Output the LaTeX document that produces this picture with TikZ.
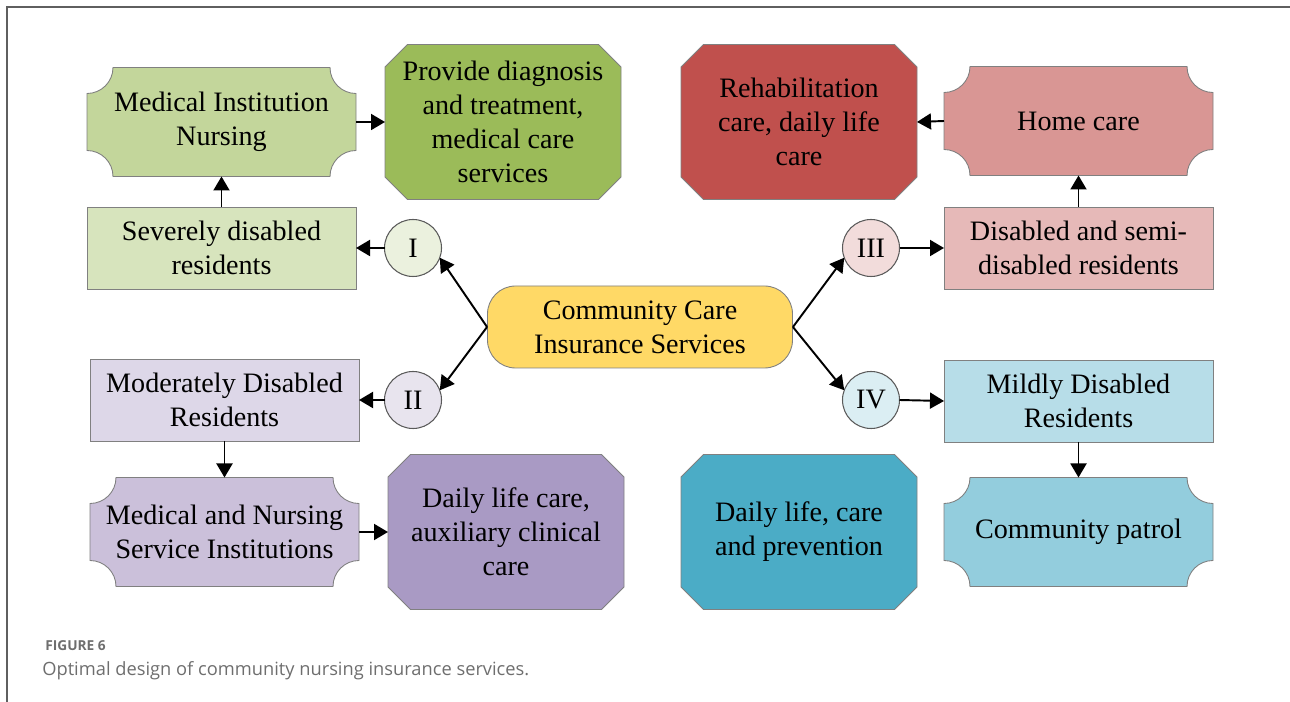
\documentclass[tikz,border=0pt]{standalone}
\usepackage{fontspec}
\setmainfont{Liberation Serif}
\newfontfamily\capfont{Open Sans}
\usepackage{xcolor}
\usepackage{tikz}
\usetikzlibrary{arrows.meta,backgrounds}

\definecolor{edgegray}{HTML}{808080}
\definecolor{circgray}{HTML}{5A5A5A}
\definecolor{framegray}{HTML}{5F5F5F}
\definecolor{capgray}{HTML}{6E6E6E}
\definecolor{hubyellow}{HTML}{FFD966}
\definecolor{grnA}{HTML}{D7E4BD}
\definecolor{grnB}{HTML}{C3D69B}
\definecolor{grnC}{HTML}{9BBB59}
\definecolor{grnD}{HTML}{EBF1DE}
\definecolor{redA}{HTML}{E6B9B8}
\definecolor{redB}{HTML}{D99694}
\definecolor{redC}{HTML}{C0504D}
\definecolor{redD}{HTML}{F2DCDB}
\definecolor{purA}{HTML}{DDD7E8}
\definecolor{purB}{HTML}{CBC0DA}
\definecolor{purC}{HTML}{A99AC4}
\definecolor{purD}{HTML}{E8E4EE}
\definecolor{bluA}{HTML}{B7DDE8}
\definecolor{bluB}{HTML}{93CDDD}
\definecolor{bluC}{HTML}{4BACC6}
\definecolor{bluD}{HTML}{DBEEF3}

\newcommand{\boxfont}{\fontsize{16}{19.3}\selectfont}
\newcommand{\plaque}[2]{%
  \filldraw[fill=#2, draw=edgegray, line width=0.5pt]
    ([xshift=0.52cm]#1.north west) -- ([xshift=-0.52cm]#1.north east)
    arc[start angle=180, end angle=270, radius=0.52cm]
    -- ([yshift=0.52cm]#1.south east)
    arc[start angle=90, end angle=180, radius=0.52cm]
    -- ([xshift=0.52cm]#1.south west)
    arc[start angle=0, end angle=90, radius=0.52cm]
    -- ([yshift=-0.52cm]#1.north west)
    arc[start angle=270, end angle=360, radius=0.52cm] -- cycle}
\newcommand{\octagon}[2]{%
  \filldraw[fill=#2, draw=edgegray, line width=0.5pt]
    ([xshift=0.45cm]#1.north west) -- ([xshift=-0.45cm]#1.north east)
    -- ([yshift=-0.45cm]#1.north east) -- ([yshift=0.45cm]#1.south east)
    -- ([xshift=-0.45cm]#1.south east) -- ([xshift=0.45cm]#1.south west)
    -- ([yshift=0.45cm]#1.south west) -- ([yshift=-0.45cm]#1.north west) -- cycle}

\tikzset{
  box/.style={rectangle, draw=edgegray, line width=0.5pt, minimum width=5.38cm,
    minimum height=1.64cm, align=center, font=\boxfont, outer sep=0pt},
  plaquebox/.style={rectangle, minimum width=5.38cm, minimum height=2.18cm,
    align=center, font=\boxfont, outer sep=0pt},
  octbox/.style={rectangle, minimum width=4.72cm, minimum height=3.1cm,
    align=center, font=\boxfont, outer sep=0pt},
  stage/.style={circle, draw=circgray, line width=0.6pt, minimum size=1.14cm,
    inner sep=0pt, font=\boxfont, outer sep=0pt},
  hub/.style={rectangle, rounded corners=0.56cm, draw=edgegray, line width=0.5pt,
    fill=hubyellow, minimum width=6.1cm, minimum height=1.64cm, align=center, font=\boxfont},
  link/.style={-{Triangle[length=0.28cm,width=0.32cm]}, line width=1.1pt}
}

\begin{document}
\begin{tikzpicture}
             \useasboundingbox (0,0) rectangle (25.8,-14.04);
             \draw[framegray, line width=0.8pt] (25.8,-0.14) -- (0.14,-0.14) -- (0.14,-14.04);

             \node[hub] (hub) at (12.8,-6.54) {Community Care\\Insurance Services};

             \node[plaquebox] (medinst) at (4.43,-2.44) {Medical Institution\\Nursing};
             \node[octbox] (diagnosis) at (10.06,-2.44) {Provide diagnosis\\and treatment,\\medical care\\services};
             \node[box, fill=grnA] (severe) at (4.43,-4.96) {Severely disabled\\residents};
             \node[stage, fill=grnD] (circI) at (8.26,-4.96) {I};

             \node[stage, fill=purD] (circII) at (8.26,-8.0) {II};
             \node[box, fill=purA] (moderate) at (4.49,-8.0) {Moderately Disabled\\Residents};
             \node[plaquebox] (mednurse) at (4.49,-10.64) {Medical and Nursing\\Service Institutions};
             \node[octbox] (dailyaux) at (10.12,-10.64) {Daily life care,\\auxiliary clinical\\care};

             \node[octbox] (rehab) at (15.98,-2.44) {Rehabilitation\\care, daily life\\care};
             \node[plaquebox] (home) at (21.57,-2.42) {Home care};
             \node[stage, fill=redD] (circIII) at (17.42,-4.96) {III};
             \node[box, fill=redA] (semi) at (21.57,-4.96) {Disabled and semi-\\disabled residents};

             \node[stage, fill=bluD] (circIV) at (17.42,-8.0) {IV};
             \node[box, fill=bluA] (mild) at (21.57,-8.02) {Mildly Disabled\\Residents};
             \node[plaquebox] (patrol) at (21.57,-10.64) {Community patrol};
             \node[octbox] (prevent) at (15.98,-10.64) {Daily life, care\\and prevention};

             \begin{scope}[on background layer]
               \foreach \n/\c in {medinst/grnB, mednurse/purB, home/redB, patrol/bluB}
                 \plaque{\n}{\c};
               \foreach \n/\c in {diagnosis/grnC, dailyaux/purC, rehab/redC, prevent/bluC}
                 \octagon{\n}{\c};
             \end{scope}

             \draw[link] (severe.north) -- (medinst.south);
             \draw[link] (medinst.east) -- (diagnosis.west);
             \draw[link] (circI.west) -- (severe.east);
             \draw[link] (hub.west) -- (circI.-20);
             \draw[link] (hub.west) -- (circII.20);
             \draw[link] (circII.west) -- (moderate.east);
             \draw[link] (moderate.south) -- (mednurse.north);
             \draw[link] (mednurse.east) -- (dailyaux.west);

             \draw[link] (hub.east) -- (circIII.200);
             \draw[link] (hub.east) -- (circIV.160);
             \draw[link] (circIII.east) -- (semi.west);
             \draw[link] (semi.north) -- (home.south);
             \draw[link] (home.west) -- (rehab.east);
             \draw[link] (circIV.east) -- (mild.west);
             \draw[link] (mild.south) -- (patrol.north);

             \node[anchor=base west, inner sep=0pt, text=capgray, font=\capfont\fontsize{7.8}{10}\selectfont\bfseries] (figlabel) at (0.9,-13.0) {FIGURE 6};
             \node[anchor=base west, inner sep=0pt, text=capgray, font=\capfont\fontsize{10.4}{12.5}\selectfont] (figcaption) at (0.84,-13.5) {Optimal design of community nursing insurance services.};
\end{tikzpicture}
\end{document}
